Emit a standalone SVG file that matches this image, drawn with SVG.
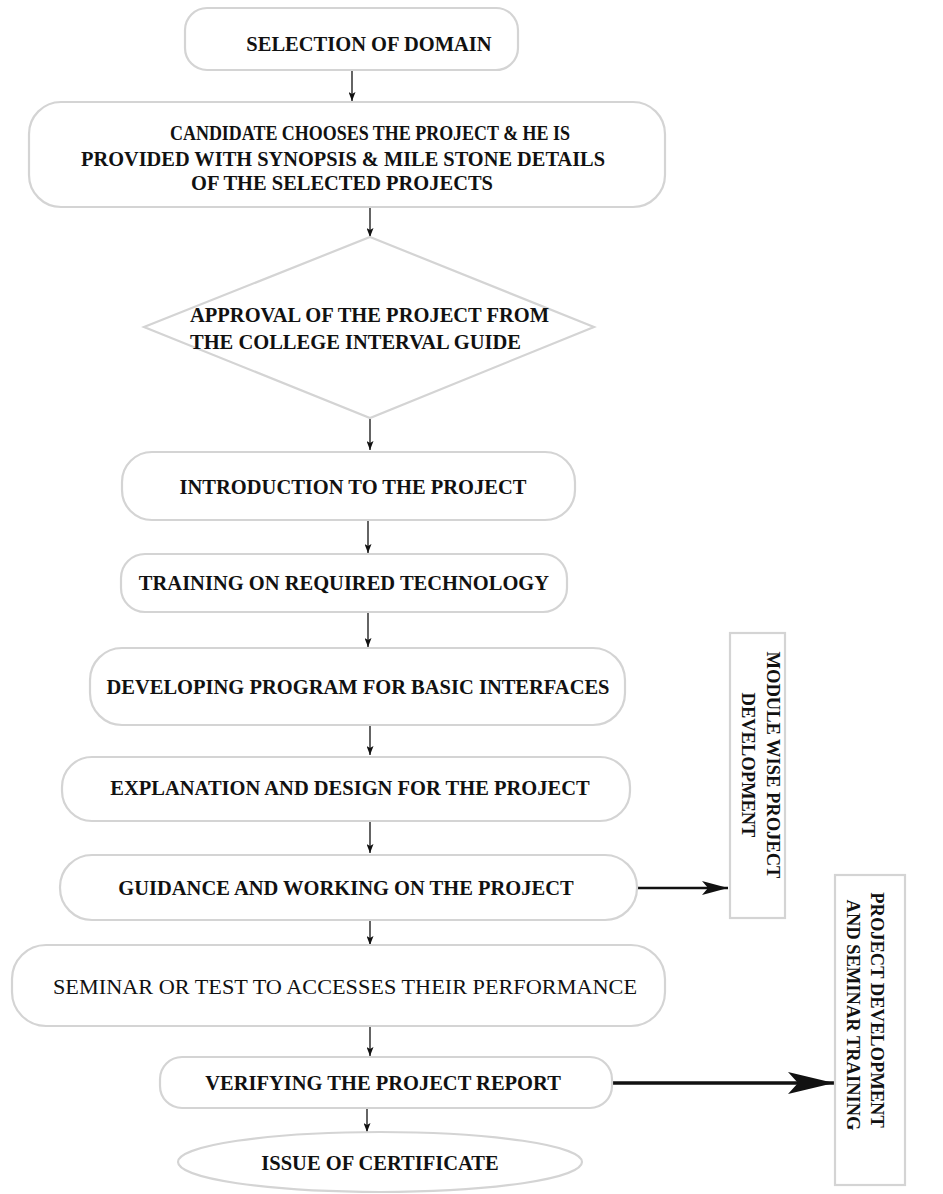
<svg xmlns="http://www.w3.org/2000/svg" width="943" height="1194" viewBox="0 0 943 1194">
<style>
.box{fill:#fff;stroke:#d4d4d4;stroke-width:2.2}
.t{font-family:"Liberation Serif","Times New Roman",serif;font-size:20.5px;font-weight:bold;fill:#111;text-anchor:middle}
.tr{font-weight:normal}
.tl{text-anchor:start}
.v{font-family:"Liberation Serif","Times New Roman",serif;font-size:18.5px;font-weight:bold;fill:#111;text-anchor:middle}
.c{stroke:#111;stroke-width:1.3;fill:none}
.c2{stroke:#111;stroke-width:2.5;fill:none}
.c3{stroke:#111;stroke-width:3.5;fill:none}
</style>
<defs>
<marker id="a" markerWidth="9" markerHeight="7" refX="9" refY="3.5" orient="auto" markerUnits="userSpaceOnUse" viewBox="0 0 9 7"><path d="M0,0 L9,3.5 L0,7 L2,3.5 Z" fill="#111"/></marker>
<marker id="b" markerWidth="26" markerHeight="14" refX="26" refY="7" orient="auto" markerUnits="userSpaceOnUse" viewBox="0 0 26 14"><path d="M0,0 L26,7 L0,14 L6,7 Z" fill="#111"/></marker>
<marker id="c" markerWidth="46" markerHeight="22" refX="46" refY="11" orient="auto" markerUnits="userSpaceOnUse" viewBox="0 0 46 22"><path d="M0,0 L46,11 L0,22 L10,11 Z" fill="#111"/></marker>
</defs>
<rect width="943" height="1194" fill="#fff"/>
<g id="connectors">
<line class="c" x1="352" y1="70" x2="352" y2="101" marker-end="url(#a)"/>
<line class="c" x1="370" y1="208" x2="370" y2="237" marker-end="url(#a)"/>
<line class="c" x1="370" y1="419" x2="370" y2="450" marker-end="url(#a)"/>
<line class="c" x1="368" y1="521" x2="368" y2="553" marker-end="url(#a)"/>
<line class="c" x1="368" y1="613" x2="368" y2="647" marker-end="url(#a)"/>
<line class="c" x1="370" y1="726" x2="370" y2="755" marker-end="url(#a)"/>
<line class="c" x1="370" y1="822" x2="370" y2="853" marker-end="url(#a)"/>
<line class="c" x1="370" y1="921" x2="370" y2="945" marker-end="url(#a)"/>
<line class="c" x1="370" y1="1027" x2="370" y2="1056" marker-end="url(#a)"/>
<line class="c" x1="367" y1="1109" x2="367" y2="1132" marker-end="url(#a)"/>
<line class="c2" x1="638" y1="888" x2="728" y2="888" marker-end="url(#b)"/>
<line class="c3" x1="612" y1="1083" x2="834" y2="1083" marker-end="url(#c)"/>
</g>
<g id="n1"><rect class="box" x="185" y="8" width="333" height="62" rx="22"/><text class="t" x="369" y="51">SELECTION OF DOMAIN</text></g>
<g id="n2"><rect class="box" x="29" y="102" width="636" height="105" rx="32"/>
<text class="t" x="370" y="140" textLength="400" lengthAdjust="spacingAndGlyphs">CANDIDATE CHOOSES THE PROJECT &amp; HE IS</text>
<text class="t" x="343" y="166" textLength="524" lengthAdjust="spacingAndGlyphs">PROVIDED WITH SYNOPSIS &amp; MILE STONE DETAILS</text>
<text class="t" x="342" y="190" textLength="302" lengthAdjust="spacingAndGlyphs">OF THE SELECTED PROJECTS</text></g>
<g id="n3"><polygon class="box" points="370,237 594,327 370,418 144,327"/>
<text class="t tl" x="190" y="322">APPROVAL OF THE PROJECT FROM</text>
<text class="t tl" x="190" y="349">THE COLLEGE INTERVAL GUIDE</text></g>
<g id="n4"><rect class="box" x="122" y="452" width="453" height="68" rx="30"/><text class="t" x="353" y="494">INTRODUCTION TO THE PROJECT</text></g>
<g id="n5"><rect class="box" x="121" y="554" width="446" height="58" rx="24"/><text class="t" x="344" y="590">TRAINING ON REQUIRED TECHNOLOGY</text></g>
<g id="n6"><rect class="box" x="90" y="648" width="535" height="77" rx="32"/><text class="t" x="358" y="694">DEVELOPING PROGRAM FOR BASIC INTERFACES</text></g>
<g id="n7"><rect class="box" x="62" y="757" width="568" height="64" rx="30"/><text class="t" x="350" y="795">EXPLANATION AND DESIGN FOR THE PROJECT</text></g>
<g id="n8"><rect class="box" x="60" y="855" width="577" height="65" rx="32"/><text class="t" x="346" y="895">GUIDANCE AND WORKING ON THE PROJECT</text></g>
<g id="n9"><rect class="box" x="12" y="945" width="653" height="81" rx="34"/><text class="t tr" x="345" y="994" textLength="584" lengthAdjust="spacingAndGlyphs">SEMINAR OR TEST TO ACCESSES THEIR PERFORMANCE</text></g>
<g id="n10"><rect class="box" x="160" y="1057" width="452" height="51" rx="22"/><text class="t" x="383" y="1090">VERIFYING THE PROJECT REPORT</text></g>
<g id="n11"><ellipse class="box" cx="380" cy="1162" rx="202" ry="30"/><text class="t" x="380" y="1170">ISSUE OF CERTIFICATE</text></g>
<g id="n12"><rect class="box" x="730" y="633" width="55" height="285"/>
<text class="v" transform="translate(767,765) rotate(90)">MODULE WISE PROJECT</text>
<text class="v" transform="translate(742,765) rotate(90)">DEVELOPMENT</text></g>
<g id="n13"><rect class="box" x="835" y="875" width="70" height="310"/>
<text class="v" transform="translate(871,1010) rotate(90)">PROJECT DEVELOPMENT</text>
<text class="v" transform="translate(847,1015) rotate(90)">AND SEMINAR TRAINING</text></g>
</svg>
